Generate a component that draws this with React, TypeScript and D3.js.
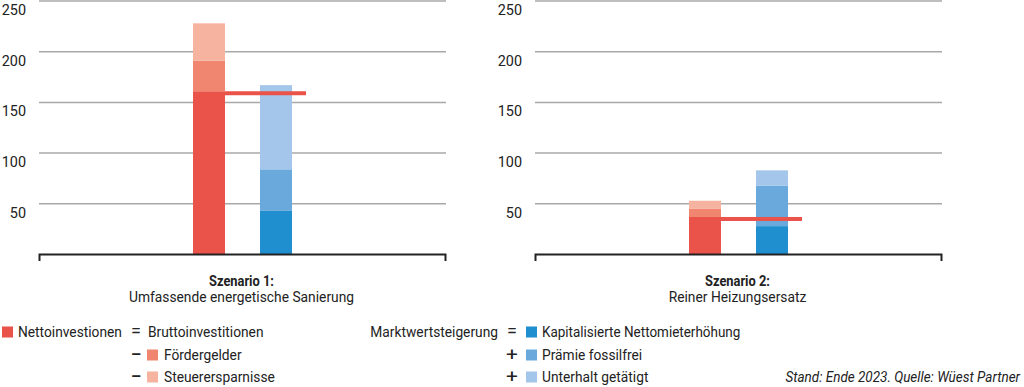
import React from 'react';
import * as d3 from 'd3';

// Werte je Szenario (gelesen aus der Grafik)
const scenarioTitles = ['Szenario 1:', 'Szenario 2:'];
const scenarioSubtitles = ['Umfassende energetische Sanierung', 'Reiner Heizungsersatz'];
const nettoinvestitionen = [161, 37];
const foerdergelder = [30, 8];
const steuerersparnisse = [37, 8];
const kapitalisierteMiete = [43, 28];
const praemieFossilfrei = [41, 40];
const unterhaltGetaetigt = [83, 15];
const barCategories = ['Investition', 'Marktwert'];
const yTicks = [50, 100, 150, 200, 250];

const redColors = ['#e9534a', '#f0866f', '#f6b3a0'];
const blueColors = ['#1f8fcf', '#6aa9dc', '#a3c6ea'];

const FONT = 'Roboto, sans-serif';
const SX = 0.9; // schmale Schrift nachbilden

// Text mit horizontaler Stauchung
function T(props: {
  x: number; y: number; anchor?: string; size?: number; bold?: boolean; italic?: boolean; sx?: number; children: React.ReactNode;
}) {
  const { x, y, anchor = 'start', size = 15.3, bold, italic, sx = SX, children } = props;
  return (
    <text
      transform={`translate(${x},${y}) scale(${sx},1)`}
      textAnchor={anchor}
      fontSize={size}
      fontWeight={bold ? 'bold' : 'normal'}
      fontStyle={italic ? 'italic' : 'normal'}
      fill="#222"
    >
      {children}
    </text>
  );
}

export default function App() {
  const width = 1024;
  const height = 387;
  const panelW = 407;
  const panelX = [39, 535];

  const y = d3.scaleLinear().domain([0, 250]).range([254.5, 1]);
  const x = d3.scaleBand<string>()
    .domain(barCategories)
    .range([154, 253])
    .paddingInner(35 / 67)
    .paddingOuter(0);
  const bw = x.bandwidth();

  const stack = (vals: number[], colors: string[], cx: number, key: string) => {
    let acc = 0;
    return vals.map((v, i) => {
      const y0 = acc;
      acc += v;
      return (
        <rect key={key + i} x={cx} width={bw} y={y(acc)} height={y(y0) - y(acc)} fill={colors[i]} />
      );
    });
  };

  const rows = [337, 360, 382];
  const sq = (xx: number, yy: number, c: string) => (
    <rect x={xx} y={yy - 10.5} width={11} height={11} fill={c} />
  );

  return (
    <div style={{ position: 'absolute', left: 0, top: 0 }}>
      <svg width={width} height={height} style={{ display: 'block', fontFamily: FONT }}>
        {panelX.map((px, p) => (
          <g key={p} transform={`translate(${px},0)`}>
            {yTicks.map((t) => (
              <g key={t}>
                <line x1={0} x2={panelW} y1={y(t)} y2={y(t)} stroke="#a8a8a8" strokeWidth={1.5} />
                <T x={-13} y={y(t) + 14} anchor="end" size={15.5} sx={0.93}>{t}</T>
              </g>
            ))}
            {stack([nettoinvestitionen[p], foerdergelder[p], steuerersparnisse[p]], redColors, x('Investition')!, 'r')}
            {stack([kapitalisierteMiete[p], praemieFossilfrei[p], unterhaltGetaetigt[p]], blueColors, x('Marktwert')!, 'b')}
            <rect
              x={x('Investition')! + bw}
              width={x('Marktwert')! + bw + 14 - (x('Investition')! + bw)}
              y={y(nettoinvestitionen[p])}
              height={4}
              fill={redColors[0]}
            />
            <path d={`M0.5,261V${y(0)}H${panelW - 0.5}V261`} fill="none" stroke="#222" strokeWidth={2} />
            <T x={panelW / 2 - 1} y={285.5} anchor="middle" size={15.5} bold sx={0.83}>{scenarioTitles[p]}</T>
            <T x={panelW / 2 - 1} y={302} anchor="middle" size={15} sx={0.92}>{scenarioSubtitles[p]}</T>
          </g>
        ))}

        {/* Legende links */}
        {sq(2, rows[0], redColors[0])}
        <T x={18} y={rows[0]}>Nettoinvestionen</T>
        <T x={136} y={rows[0]} anchor="middle" sx={1} size={18}>=</T>
        <T x={148} y={rows[0]}>Bruttoinvestitionen</T>
        <T x={136} y={rows[1]} anchor="middle" sx={1} size={16} bold>–</T>
        {sq(147, rows[1], redColors[1])}
        <T x={164} y={rows[1]}>Fördergelder</T>
        <T x={136} y={rows[2]} anchor="middle" sx={1} size={16} bold>–</T>
        {sq(147, rows[2], redColors[2])}
        <T x={164} y={rows[2]}>Steuerersparnisse</T>

        {/* Legende rechts */}
        <T x={498} y={rows[0]} anchor="end">Marktwertsteigerung</T>
        <T x={512} y={rows[0]} anchor="middle" sx={1} size={18}>=</T>
        {sq(526, rows[0], blueColors[0])}
        <T x={542} y={rows[0]} sx={0.88}>Kapitalisierte Nettomieterhöhung</T>
        <T x={512} y={rows[1] + 0.5} anchor="middle" sx={1.1} size={19}>+</T>
        {sq(526, rows[1], blueColors[1])}
        <T x={542} y={rows[1]}>Prämie fossilfrei</T>
        <T x={512} y={rows[2] + 0.5} anchor="middle" sx={1.1} size={19}>+</T>
        {sq(526, rows[2], blueColors[2])}
        <T x={542} y={rows[2]}>Unterhalt getätigt</T>

        <T x={1020} y={rows[2]} anchor="end" italic size={15} sx={0.9}>Stand: Ende 2023. Quelle: Wüest Partner</T>
      </svg>
    </div>
  );
}
